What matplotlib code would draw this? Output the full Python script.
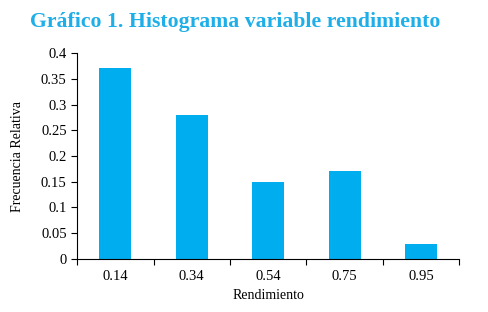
import matplotlib.pyplot as plt
import numpy as np

plt.rcParams['font.family'] = 'Liberation Serif'

categorias = ["0.14", "0.34", "0.54", "0.75", "0.95"]
frecuencia = [0.37, 0.28, 0.15, 0.17, 0.03]
yticks = [0, 0.05, 0.1, 0.15, 0.2, 0.25, 0.3, 0.35, 0.4]
ylabels = ["0", "0.05", "0.1", "0.15", "0.2", "0.25", "0.3", "0.35", "0.4"]

fig = plt.figure(figsize=(4.88, 3.12), dpi=100)
ax = fig.add_axes([0.158, 0.170, 0.783, 0.660])

x = np.arange(len(categorias))
ax.bar(x, frecuencia, width=0.42, color="#00AEEF")

ax.set_xlim(-0.5, len(categorias) - 0.5)
ax.set_ylim(0, 0.4)
ax.set_yticks(yticks)
ax.set_yticklabels(ylabels, fontsize=10.5)
ax.set_xticks(x)
ax.set_xticklabels(categorias, fontsize=10.5)
ax.tick_params(axis='x', length=0, pad=8)
ax.set_xticks(np.arange(-0.5, len(categorias)), minor=True)
ax.tick_params(axis='x', which='minor', length=4, direction='out', width=0.8)
ax.tick_params(axis='y', length=4, direction='out', width=0.8)

ax.spines[['top', 'right']].set_visible(False)
ax.set_xlabel("Rendimiento", fontsize=10)
ax.set_ylabel("Frecuencia Relativa", fontsize=10, labelpad=12)

fig.text(0.482, 0.93, "Gráfico 1. Histograma variable rendimiento",
         ha="center", va="center", fontsize=15.7, fontweight="bold", color="#1EAEE8")

plt.savefig("out.png", dpi=100)
